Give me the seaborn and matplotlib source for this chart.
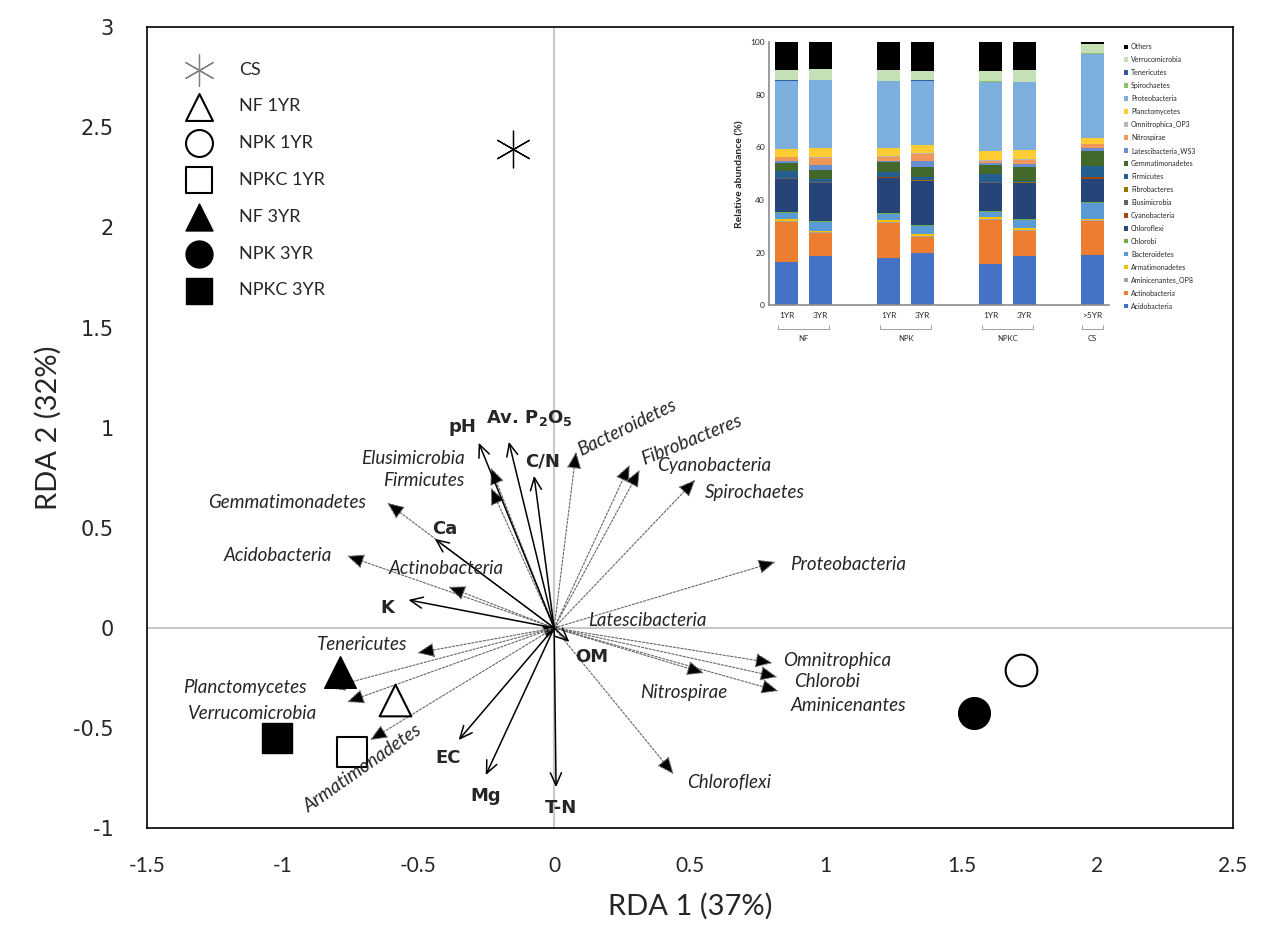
import numpy as np
import pandas as pd
import seaborn as sns
import matplotlib.pyplot as plt
from matplotlib.patches import Patch
import matplotlib.transforms as mtransforms

# --- sample scores on RDA1 / RDA2 ---
samples = ['CS', 'NF 1YR', 'NPK 1YR', 'NPKC 1YR', 'NF 3YR', 'NPK 3YR', 'NPKC 3YR']
sample_x = [-0.15, -0.585, 1.72, -0.745, -0.79, 1.545, -1.02]
sample_y = [2.39, -0.36, -0.21, -0.62, -0.22, -0.425, -0.55]

# --- environmental variables (solid arrows) ---
env_vars = ['pH', r'Av. P$_\mathbf{2}$O$_\mathbf{5}$', 'C/N', 'Ca', 'K', 'OM', 'EC', 'Mg', 'T-N']
env_x = [-0.278, -0.167, -0.074, -0.44, -0.537, 0.056, -0.352, -0.252, 0.007]
env_y = [0.925, 0.93, 0.76, 0.445, 0.14, -0.07, -0.56, -0.735, -0.795]

# --- phyla (dotted arrows) ---
phyla_arrows = ['Bacteroidetes', 'Fibrobacteres', 'Cyanobacteria', 'Spirochaetes', 'Proteobacteria',
                'Latescibacteria', 'Omnitrophica', 'Chlorobi', 'Aminicenantes', 'Nitrospirae',
                'Chloroflexi', 'Gemmatimonadetes', 'Acidobacteria', 'Actinobacteria', 'Elusimicrobia',
                'Firmicutes', 'Tenericutes', 'Planctomycetes', 'Verrucomicrobia', 'Armatimonadetes']
phyla_x = [0.081, 0.278, 0.315, 0.52, 0.815, 0.02, 0.804, 0.822, 0.826, 0.552,
           0.44, -0.615, -0.763, -0.39, -0.233, -0.233, -0.504, -0.833, -0.763, -0.678]
phyla_y = [0.88, 0.815, 0.79, 0.74, 0.33, 0.01, -0.175, -0.245, -0.315, -0.225,
           -0.73, 0.625, 0.36, 0.205, 0.80, 0.70, -0.125, -0.30, -0.37, -0.56]

# --- inset: relative abundance (%) ---
bar_pos = [0, 1, 3, 4, 6, 7, 9]
bar_ticks = ['1YR', '3YR', '1YR', '3YR', '1YR', '3YR', '>5YR']
groups = ['NF', 'NPK', 'NPKC', 'CS']
phyla = ['Acidobacteria', 'Actinobacteria', 'Aminicenantes_OP8', 'Armatimonadetes', 'Bacteroidetes',
         'Chlorobi', 'Chloroflexi', 'Cyanobacteria', 'Elusimicrobia', 'Fibrobacteres', 'Firmicutes',
         'Gemmatimonadetes', 'Latescibacteria_WS3', 'Nitrospirae', 'Omnitrophica_OP3', 'Planctomycetes',
         'Proteobacteria', 'Spirochaetes', 'Tenericutes', 'Verrucomicrobia', 'Others']
phyla_colors = ['#4472C4', '#ED7D31', '#A5A5A5', '#FFC000', '#5B9BD5', '#70AD47', '#264478', '#9E480E',
                '#636363', '#997300', '#255E91', '#43682B', '#698ED0', '#F1975A', '#B7B7B7', '#FFCD33',
                '#7CAFDD', '#8CC168', '#335AA1', '#C5E0B4', '#000000']
nf_1yr = [16.4, 15.3, 0.2, 0.9, 2.2, 0.3, 12.6, 0.2, 0.1, 0.1, 2.7, 3.2, 0.7, 1.3, 0.2, 3.1, 25.8, 0.1, 0.1, 3.8, 10.7]
nf_3yr = [18.7, 8.7, 0.3, 0.7, 3.2, 0.4, 14.4, 0.2, 0.1, 0.1, 1.0, 3.8, 1.7, 2.8, 0.2, 3.3, 26.0, 0.1, 0.1, 4.1, 10.1]
npk_1yr = [17.9, 13.3, 0.3, 1.0, 2.1, 0.4, 13.4, 0.2, 0.1, 0.1, 1.8, 3.7, 0.7, 1.5, 0.2, 3.1, 25.4, 0.1, 0.1, 4.1, 10.5]
npk_3yr = [19.9, 6.2, 0.3, 0.8, 3.0, 0.4, 16.5, 0.2, 0.1, 0.1, 1.2, 4.0, 2.0, 2.9, 0.3, 2.9, 24.5, 0.1, 0.1, 3.7, 10.8]
npkc_1yr = [15.7, 16.8, 0.3, 0.7, 1.9, 0.3, 10.7, 0.2, 0.1, 0.1, 3.1, 3.5, 0.7, 0.9, 0.2, 3.3, 26.5, 0.1, 0.1, 3.8, 11.0]
npkc_3yr = [18.8, 9.4, 0.3, 0.7, 3.2, 0.4, 13.5, 0.2, 0.1, 0.1, 0.6, 5.1, 1.2, 1.7, 0.2, 3.6, 25.7, 0.1, 0.1, 4.6, 10.4]
cs = [19.2, 13.0, 0.2, 0.4, 5.9, 0.4, 9.0, 0.5, 0.1, 0.1, 4.1, 5.9, 1.0, 1.4, 0.2, 2.3, 32.0, 0.1, 0.1, 3.5, 0.6]

sns.set_style('white')
plt.rcParams['font.family'] = ['Lato', 'DejaVu Sans']
plt.rcParams['mathtext.fontset'] = 'dejavusans'

fig = plt.figure(figsize=(12.67, 9.39), dpi=100)
ax = fig.add_axes([0.116, 0.118, 0.857, 0.853])

ax.axhline(0, color='#c8c8c8', lw=1.5, zorder=0)
ax.axvline(0, color='#c8c8c8', lw=1.5, zorder=0)

# phyla arrows: dotted shaft, filled head
for name, x, y in zip(phyla_arrows, phyla_x, phyla_y):
    ax.annotate('', xy=(x, y), xytext=(0, 0),
                arrowprops=dict(arrowstyle='-|>,head_length=1.05,head_width=0.45',
                                linestyle=(0, (2, 1.5)), lw=0.8,
                                edgecolor='#666666', facecolor='black',
                                shrinkA=0, shrinkB=0))

# environmental arrows: solid shaft, open head
for name, x, y in zip(env_vars, env_x, env_y):
    ax.annotate('', xy=(x, y), xytext=(0, 0),
                arrowprops=dict(arrowstyle='->,head_length=0.9,head_width=0.4',
                                lw=1.1, color='black', shrinkA=0, shrinkB=0))

# sample points
styles = {
    'CS': dict(marker=(6, 2, 0), s=700, color='black', linewidth=0.9),
    'NF 1YR': dict(marker='^', s=520, facecolor='white', edgecolor='black', linewidth=1.5),
    'NPK 1YR': dict(marker='o', s=520, facecolor='white', edgecolor='black', linewidth=1.5),
    'NPKC 1YR': dict(marker='s', s=480, facecolor='white', edgecolor='black', linewidth=1.5),
    'NF 3YR': dict(marker='^', s=520, color='black', edgecolor='black', linewidth=1),
    'NPK 3YR': dict(marker='o', s=520, color='black', edgecolor='black', linewidth=1),
    'NPKC 3YR': dict(marker='s', s=480, color='black', edgecolor='black', linewidth=1),
}
for name, x, y in zip(samples, sample_x, sample_y):
    sns.scatterplot(x=[x], y=[y], label=name, ax=ax, zorder=3, **styles[name])

# labels
env_label_pos = {'pH': (-0.337, 1.005), r'Av. P$_\mathbf{2}$O$_\mathbf{5}$': (-0.093, 1.05),
                 'C/N': (-0.041, 0.83), 'Ca': (-0.404, 0.495), 'K': (-0.615, 0.10),
                 'OM': (0.137, -0.145), 'EC': (-0.389, -0.65), 'Mg': (-0.252, -0.84),
                 'T-N': (0.026, -0.90)}
for name in env_vars:
    ax.text(*env_label_pos[name], name, fontsize=13, fontweight='bold',
            ha='center', va='center', family=['DejaVu Sans'])

phyla_label_pos = {'Bacteroidetes': (0.267, 1.0, 26), 'Fibrobacteres': (0.507, 0.94, 22),
                   'Cyanobacteria': (0.589, 0.81, 0), 'Spirochaetes': (0.741, 0.675, 0),
                   'Proteobacteria': (1.081, 0.315, 0), 'Latescibacteria': (0.344, 0.035, 0),
                   'Omnitrophica': (1.041, -0.165, 0), 'Chlorobi': (1.004, -0.265, 0),
                   'Aminicenantes': (1.085, -0.385, 0), 'Nitrospirae': (0.478, -0.32, 0),
                   'Chloroflexi': (0.644, -0.77, 0), 'Gemmatimonadetes': (-0.985, 0.625, 0),
                   'Acidobacteria': (-1.019, 0.36, 0), 'Actinobacteria': (-0.396, 0.295, 0),
                   'Elusimicrobia': (-0.519, 0.845, 0), 'Firmicutes': (-0.481, 0.735, 0),
                   'Tenericutes': (-0.707, -0.085, 0), 'Planctomycetes': (-1.141, -0.295, 0),
                   'Verrucomicrobia': (-1.111, -0.425, 0), 'Armatimonadetes': (-0.707, -0.70, 35)}
for name in phyla_arrows:
    px, py, rot = phyla_label_pos[name]
    ax.text(px, py, name, fontsize=13.5, style='italic', rotation=rot,
            ha='center', va='center', rotation_mode='anchor')

ax.set_xlim(-1.5, 2.5)
ax.set_ylim(-1, 3)
ax.set_xticks(np.arange(-1.5, 2.51, 0.5))
ax.set_xticklabels(['-1.5', '-1', '-0.5', '0', '0.5', '1', '1.5', '2', '2.5'])
ax.set_yticks(np.arange(-1, 3.01, 0.5))
ax.set_yticklabels(['-1', '-0.5', '0', '0.5', '1', '1.5', '2', '2.5', '3'])
ax.tick_params(axis='both', length=0, labelsize=15)
ax.tick_params(axis='x', pad=20)
ax.tick_params(axis='y', pad=24)
for lab in ax.get_yticklabels():
    lab.set_family('DejaVu Sans')
ax.set_xlabel('RDA 1 (37%)', fontsize=21, labelpad=12)
ax.set_ylabel('RDA 2 (32%)', fontsize=21, labelpad=8)
for sp in ax.spines.values():
    sp.set_color('black')
    sp.set_linewidth(1.2)

leg = ax.legend(loc='upper left', bbox_to_anchor=(0.025, 0.966), frameon=False, fontsize=13,
                markerscale=0.85, labelspacing=1.15, handletextpad=1.2, borderaxespad=0)
leg.legend_handles[0].set_edgecolor('#808080')
leg.legend_handles[0].set_facecolor('#808080')

# --- inset stacked bars ---
axin = fig.add_axes([0.607, 0.675, 0.268, 0.28])
abund = pd.DataFrame({'NF 1YR': nf_1yr, 'NF 3YR': nf_3yr, 'NPK 1YR': npk_1yr, 'NPK 3YR': npk_3yr,
                      'NPKC 1YR': npkc_1yr, 'NPKC 3YR': npkc_3yr, 'CS': cs}, index=phyla)
stacked = abund.cumsum()
for name, col in reversed(list(zip(phyla, phyla_colors))):
    sns.barplot(x=bar_pos, y=stacked.loc[name].values, native_scale=True, orient='x',
                color=col, saturation=1, width=0.67, linewidth=0, ax=axin)
axin.set_xlim(-0.52, 9.48)
axin.set_ylim(0, 100)
axin.set_yticks([0, 20, 40, 60, 80, 100])
axin.set_xticks(bar_pos)
axin.set_xticklabels(bar_ticks)
axin.tick_params(axis='both', labelsize=6, length=0, pad=3)
axin.tick_params(axis='x', pad=5)
axin.set_ylabel('Relative abundance (%)', fontsize=7.5, fontweight='bold', labelpad=4)
axin.set_xlabel('')
for side in ['top', 'right']:
    axin.spines[side].set_visible(False)
for side in ['left', 'bottom']:
    axin.spines[side].set_color('#8c8c8c')
    axin.spines[side].set_linewidth(1.2)

trans = mtransforms.blended_transform_factory(axin.transData, axin.transAxes)
bracket_spans = [(-0.25, 1.25), (2.75, 4.25), (5.75, 7.25), (8.7, 9.3)]
for (a, b), g in zip(bracket_spans, groups):
    axin.plot([a, a, b, b], [-0.075, -0.09, -0.09, -0.075], color='#a0a0a0', lw=0.7,
              transform=trans, clip_on=False)
    axin.text((a + b) / 2, -0.125, g, fontsize=5.5, ha='center', va='center', transform=trans)

handles = [Patch(facecolor=c, edgecolor='none') for c in phyla_colors]
fig.legend(handles[::-1], phyla[::-1], loc='upper left', bbox_to_anchor=(0.885, 0.957),
           frameon=False, fontsize=5, handlelength=0.6, handleheight=0.6,
           labelspacing=0.86, handletextpad=0.4, borderaxespad=0)

fig.savefig('out.png', dpi=100)
